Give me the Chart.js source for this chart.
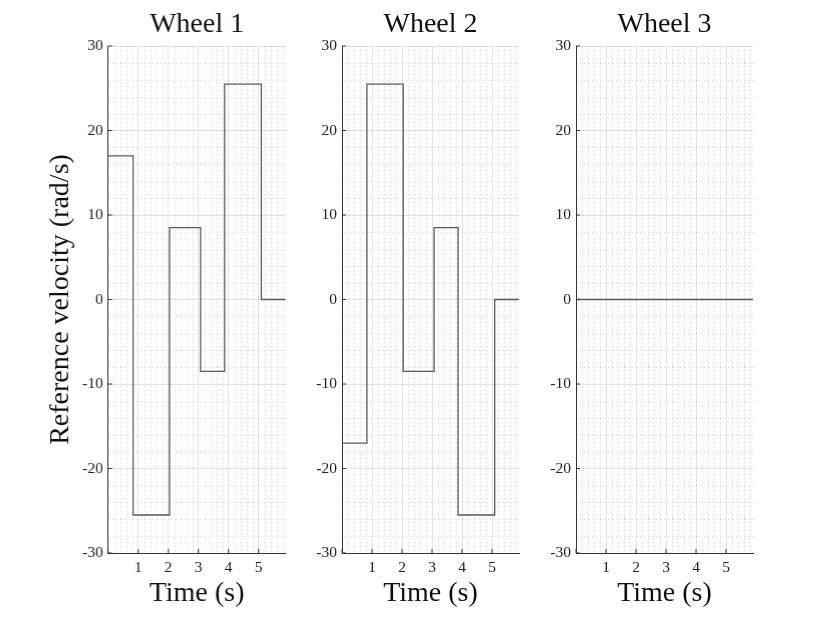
<!DOCTYPE html>
<html>
<head>
<meta charset="utf-8">
<script src="https://cdn.jsdelivr.net/npm/chart.js@4/dist/chart.umd.min.js"></script>
<style>
  body { margin: 0; background: #fff; }
  .panel { position: absolute; top: 0; height: 623px; }
</style>
</head>
<body>
<div class="panel" id="p1"><canvas id="c1"></canvas></div>
<div class="panel" id="p2"><canvas id="c2"></canvas></div>
<div class="panel" id="p3"><canvas id="c3"></canvas></div>
<script>
// data
const times = [0, 0.83, 2.04, 3.07, 3.87, 5.09, 5.9];
const wheel1 = [17, -25.5, 8.5, -8.5, 25.5, 0, 0];
const wheel2 = [-17, 25.5, -8.5, 8.5, -25.5, 0, 0];
const wheel3 = [0, 0, 0, 0, 0, 0, 0];
const titles = ["Wheel 1", "Wheel 2", "Wheel 3"];
const xTicks = [0, 1, 2, 3, 4, 5];
const yTicks = [-30, -20, -10, 0, 10, 20, 30];
const xMax = 5.9;

const serif = '"Liberation Serif", "DejaVu Serif", serif';

// panel placement (left edge of plot area)
const plotLeft = [107.7, 341.7, 575.7];
const plotW = 177;
const padRight = 3;

// dotted minor grid + inward tick marks
const minorGrid = {
  id: "minorGrid",
  beforeDatasetsDraw(chart) {
    const { ctx, chartArea: a, scales: { x, y } } = chart;
    ctx.save();
    ctx.strokeStyle = "rgba(0,0,0,0.17)";
    ctx.lineWidth = 1.2;
    ctx.setLineDash([1.2, 2.8]);
    for (let i = 1; i < xMax * 5; i++) {
      if (i % 5 === 0) continue;
      const px = Math.round(x.getPixelForValue(i / 5)) + 0.5;
      ctx.beginPath();
      ctx.moveTo(px, a.top);
      ctx.lineTo(px, a.bottom);
      ctx.stroke();
    }
    for (let v = -28; v < 30; v += 2) {
      if (v % 10 === 0) continue;
      const py = Math.round(y.getPixelForValue(v)) + 0.5;
      ctx.beginPath();
      ctx.moveTo(a.left, py);
      ctx.lineTo(a.right, py);
      ctx.stroke();
    }
    ctx.restore();
  },
  afterDraw(chart) {
    const { ctx, chartArea: a, scales: { x, y } } = chart;
    ctx.save();
    ctx.strokeStyle = "#333";
    ctx.lineWidth = 1;
    xTicks.forEach(v => {
      const px = x.getPixelForValue(v);
      ctx.beginPath();
      ctx.moveTo(px, a.bottom);
      ctx.lineTo(px, a.bottom - 4);
      ctx.stroke();
    });
    yTicks.forEach(v => {
      const py = y.getPixelForValue(v);
      ctx.beginPath();
      ctx.moveTo(a.left, py);
      ctx.lineTo(a.left + 4, py);
      ctx.stroke();
    });
    ctx.restore();
  }
};

function makeChart(i, values) {
  const yWidth = i === 0 ? plotLeft[0] : 50;
  const panel = document.getElementById("p" + (i + 1));
  panel.style.left = (plotLeft[i] - yWidth) + "px";
  panel.style.width = (yWidth + plotW + padRight) + "px";

  new Chart(document.getElementById("c" + (i + 1)), {
    type: "line",
    data: {
      datasets: [{
        data: times.map((t, k) => ({ x: t, y: values[k] })),
        stepped: "before",
        borderColor: "#5a5a5a",
        borderWidth: 1.3,
        pointRadius: 0,
        fill: false,
      }],
    },
    options: {
      responsive: true,
      maintainAspectRatio: false,
      animation: false,
      layout: { padding: { left: 0, right: padRight, top: 0, bottom: 0 } },
      plugins: {
        legend: { display: false },
        tooltip: { enabled: false },
        title: {
          display: true,
          text: titles[i],
          fullSize: false,
          color: "#111",
          font: { family: serif, size: 28, weight: "normal", lineHeight: 1.2 },
          padding: { top: 8, bottom: 4.4 },
        },
      },
      scales: {
        x: {
          type: "linear",
          min: 0,
          max: xMax,
          afterBuildTicks: s => { s.ticks = xTicks.map(v => ({ value: v })); },
          afterFit: s => { s.height = 70; },
          grid: { color: "#e2e2e2", lineWidth: 1, drawTicks: false },
          border: { display: true, color: "#333", width: 1 },
          ticks: {
            padding: 6,
            color: "#222",
            maxRotation: 0,
            font: { family: serif, size: 15.5 },
            callback: v => (v === 0 ? "" : v),
          },
          title: {
            display: true,
            text: "Time (s)",
            color: "#111",
            font: { family: serif, size: 28, lineHeight: 1.2 },
            padding: { top: 0, bottom: 13 },
          },
        },
        y: {
          type: "linear",
          min: -30,
          max: 30,
          afterBuildTicks: s => { s.ticks = yTicks.map(v => ({ value: v })); },
          afterFit: s => { s.width = yWidth; },
          grid: { color: "#e2e2e2", lineWidth: 1, drawTicks: false },
          border: { display: true, color: "#333", width: 1 },
          ticks: {
            padding: 5,
            color: "#222",
            font: { family: serif, size: 15.5 },
          },
          title: {
            display: i === 0,
            text: "Reference velocity (rad/s)",
            color: "#111",
            font: { family: serif, size: 28, lineHeight: 1.2 },
            padding: { top: 43.7, bottom: 0 },
          },
        },
      },
    },
    plugins: [minorGrid],
  });
}

makeChart(0, wheel1);
makeChart(1, wheel2);
makeChart(2, wheel3);
</script>
</body>
</html>
